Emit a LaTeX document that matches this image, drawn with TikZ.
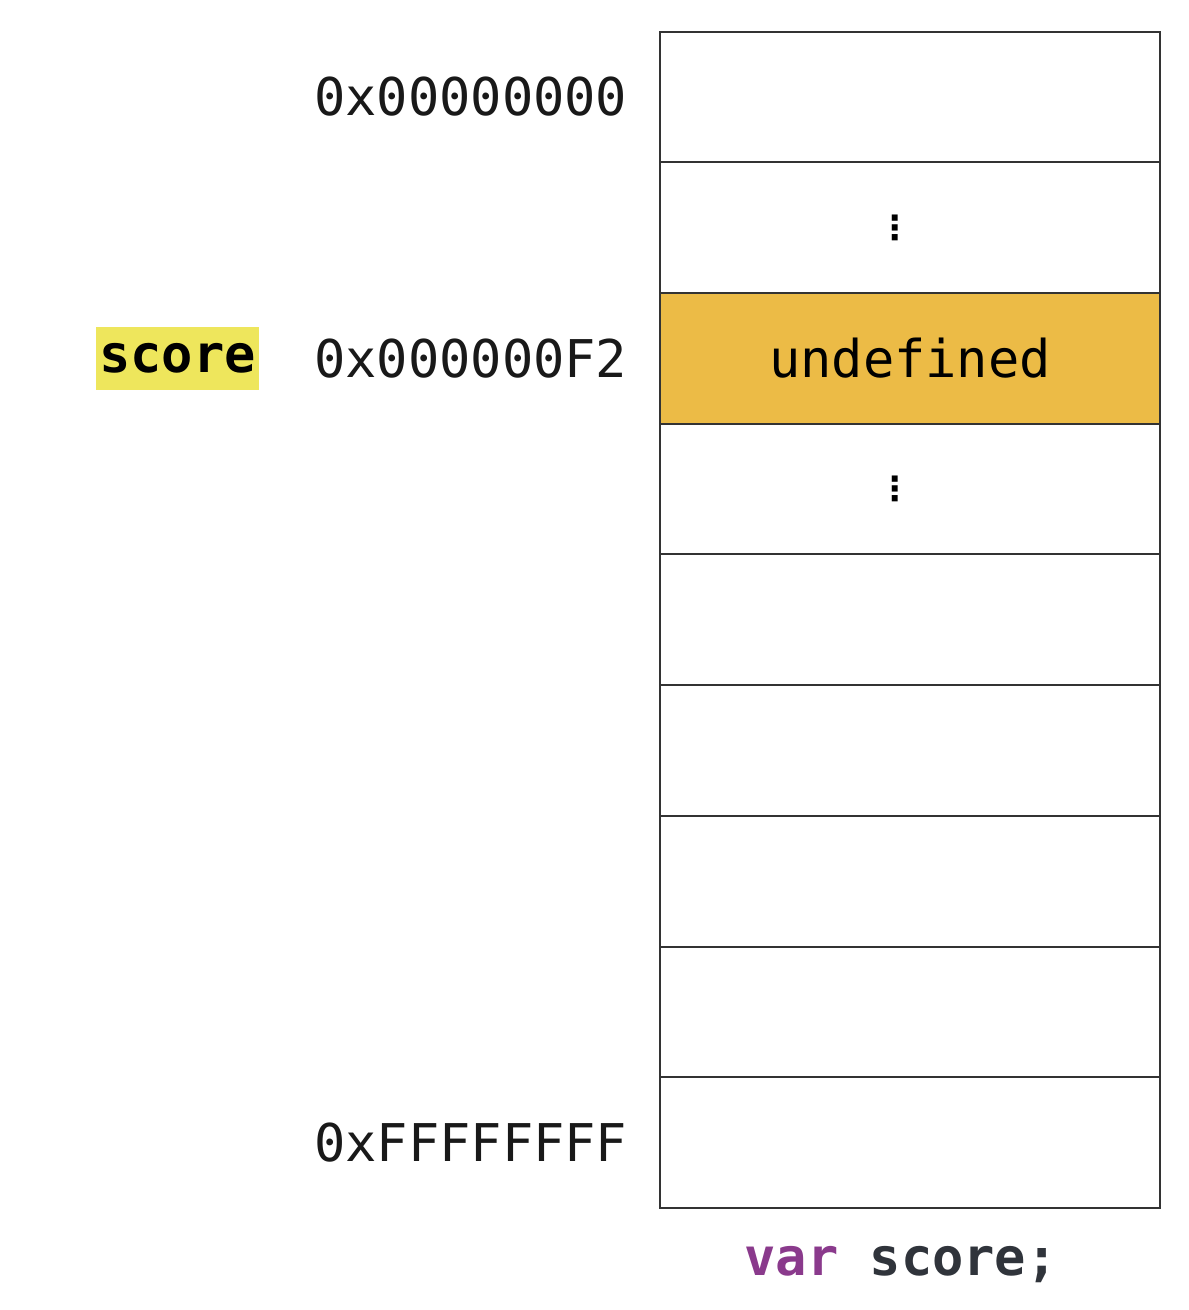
\documentclass[tikz,border=0pt]{standalone}
\usepackage{fontspec}
\setmonofont{DejaVu Sans Mono}
\newfontfamily\symfont{DejaVu Sans}
\usetikzlibrary{positioning}

\definecolor{slotfill}{HTML}{ECBB46}
\definecolor{marker}{HTML}{EEE65C}
\definecolor{keyword}{HTML}{8A3A8C}
\definecolor{ident}{HTML}{30343B}

\newcommand{\memsize}{\fontsize{14.8}{17}\selectfont}
\newcommand{\gapdots}{\kern-3mm{\symfont\bfseries\fontsize{9.5}{11}\selectfont ⋮}}

\tikzset{
	slot/.style={draw=black!80, line width=0.2mm, minimum width=50mm, minimum height=13.07mm,
		inner sep=0pt, outer sep=0pt, font=\ttfamily\memsize},
	addr/.style={left=3.2mm of #1, font=\ttfamily\memsize, text=black!90, inner sep=0pt},
	code/.style={font=\ttfamily\bfseries\memsize}
}

\begin{document}
\begin{tikzpicture}[x=0.1mm, y=-0.1mm]
		\useasboundingbox (0,0) rectangle (1188,1310);
		
		% Draw memory slots
		\node[slot] (m1) at (910,97) {};
		\node[slot, below=0pt of m1] (m2) {\gapdots};
		\node[slot, below=0pt of m2, fill=slotfill] (m3) {undefined};
		\node[slot, below=0pt of m3] (m4) {\gapdots};
		\node[slot, below=0pt of m4] (m5) {};
		\node[slot, below=0pt of m5] (m6) {};
		\node[slot, below=0pt of m6] (m7) {};
		\node[slot, below=0pt of m7] (m8) {};
		\node[slot, below=0pt of m8] (m9) {};
		
		% Addresses
		\node[addr=m1] (a1) {0x00000000};
		\node[addr=m3] (a3) {0x000000F2};
		\node[addr=m9] (a9) {0xFFFFFFFF};
		
		% Variable name and declaration
		\node[left=5.4mm of a3, fill=marker, code, inner xsep=0.3mm,
			minimum height=6.3mm] (name) {score};
		\node[below=3.8mm of m9, xshift=-0.9mm, code, inner sep=0pt]
			(decl) {\textcolor{keyword}{var} \textcolor{ident}{score;}};
		
	\end{tikzpicture}
\end{document}
